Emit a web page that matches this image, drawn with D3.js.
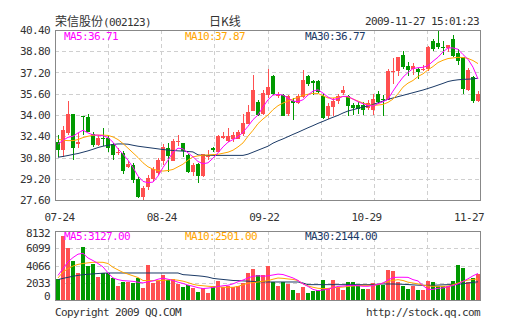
<!DOCTYPE html>
<html><head><meta charset="utf-8">
<script src="https://cdn.jsdelivr.net/npm/d3@7"></script>
<style>html,body{margin:0;padding:0;background:#fff;}svg{display:block}</style>
</head><body>
<svg id="c" width="505" height="330"></svg>
<script>
// ---------- DATA ----------
const stockName = "荣信股份";
const stockCode = "(002123)";
const chartTitle = "日K线";
const stamp = "2009-11-27 15:01:23";
const dateLabels = ["07-24","08-24","09-22","10-29","11-27"];
const priceTicks = [40.40,38.80,37.20,35.60,34.00,32.40,30.80,29.20,27.60];
const volTicks = [8132,6099,4066,2033,0];
const maNames = ["MA5","MA10","MA30"];
const maLast = [36.71,37.87,36.77];
const volMaLast = [3127,2501,2144];

const openP = [31.99,31.36,32.62,34.05,31.87,33.90,33.87,32.60,31.74,32.30,
32.25,31.79,31.20,31.16,30.06,30.23,29.18,27.80,28.56,29.16,
29.65,30.55,31.49,30.54,32.00,31.87,30.99,29.73,30.31,29.35,
30.80,31.49,31.24,32.25,32.04,32.17,32.25,32.57,33.32,34.32,
35.00,34.08,35.50,36.91,35.40,35.53,34.02,35.05,34.90,35.40,
36.91,36.53,36.53,35.40,33.90,34.65,35.03,35.66,35.40,34.78,
34.78,34.78,34.53,34.40,35.58,35.20,35.15,37.25,37.29,38.50,
37.67,37.42,37.47,37.40,37.42,39.55,39.40,39.10,38.99,39.75,
38.67,38.34,35.90,36.84,35.03];
const highP = [32.49,33.17,35.08,34.10,32.64,33.95,34.10,32.70,32.50,33.00,
32.40,31.90,31.49,31.30,30.50,30.36,29.35,28.65,29.48,30.06,
30.74,31.80,31.87,32.20,32.50,31.90,31.10,30.36,30.36,31.10,
31.36,31.60,32.50,32.75,33.00,32.75,32.90,34.05,34.72,37.01,
35.10,35.90,37.44,37.00,35.70,35.60,35.50,35.30,35.60,37.41,
37.00,36.66,36.66,35.60,34.90,35.30,35.60,36.20,35.50,34.90,
35.00,35.00,35.10,35.60,35.80,35.53,37.44,38.30,38.40,38.80,
38.00,37.90,37.55,37.80,39.20,39.70,40.30,39.60,39.30,40.00,
39.00,38.40,37.55,36.90,35.80];
const lowP = [30.86,30.86,32.49,30.61,31.50,32.50,32.70,31.60,31.70,31.70,
31.20,30.60,31.00,29.56,30.00,28.86,27.73,27.55,28.35,28.98,
29.48,30.20,29.73,30.50,31.66,30.86,29.66,29.40,28.90,29.30,
30.60,31.20,31.20,32.20,31.98,31.98,32.20,32.40,33.30,34.30,
33.90,34.00,35.30,35.50,35.30,33.90,33.95,33.65,34.80,35.30,
36.20,35.53,35.65,33.70,33.70,33.90,34.80,35.50,33.90,34.00,
34.10,34.00,34.40,34.00,34.90,33.90,35.10,36.30,36.90,37.50,
36.90,37.00,36.70,37.30,37.35,38.85,39.00,38.50,38.75,38.40,
37.80,35.60,35.80,34.90,35.00];
const closeP = [31.36,32.87,34.05,31.49,32.00,33.85,32.74,31.80,32.29,32.25,
31.50,30.99,31.25,29.80,30.29,29.10,27.80,28.48,29.24,29.91,
30.61,31.58,30.91,32.04,32.04,31.29,29.73,30.23,29.40,31.04,
30.90,31.36,32.42,32.42,32.42,32.50,32.74,33.38,34.25,35.88,
34.00,35.68,36.13,35.58,35.50,33.98,35.40,34.90,35.40,36.66,
36.28,36.40,35.73,33.77,34.65,35.08,35.40,35.90,34.65,34.53,
34.50,34.40,34.90,35.23,35.00,35.15,37.34,37.34,38.34,37.59,
37.34,37.67,37.22,37.50,39.10,38.92,39.10,38.99,39.25,38.50,
38.04,35.90,37.42,35.03,35.58];
const ma5 = [31.80,32.10,32.32,32.40,32.65,32.85,32.65,32.50,32.48,32.44,
32.30,31.95,31.45,31.05,30.60,30.05,29.40,29.00,28.90,28.95,
29.40,30.05,30.60,31.20,31.50,31.45,31.15,30.85,30.50,30.33,
30.40,30.75,31.15,31.60,31.95,32.15,32.35,32.70,33.15,33.65,
34.00,34.60,35.15,35.50,35.55,35.50,35.28,35.05,35.00,35.15,
35.50,35.80,35.90,35.65,35.35,35.15,35.25,35.40,35.40,35.20,
35.00,34.85,34.72,34.68,34.85,35.00,35.20,35.80,36.35,36.85,
37.20,37.50,37.56,37.59,37.72,38.05,38.35,38.75,39.05,39.05,
38.95,38.55,38.20,37.60,36.71];
const ma10 = [32.17,32.10,32.07,32.07,32.15,32.30,32.40,32.47,32.49,32.49,
32.46,32.35,32.15,31.85,31.50,31.15,30.80,30.40,30.10,29.92,
29.82,29.78,29.82,29.90,30.10,30.30,30.60,30.85,30.92,30.97,
30.99,31.02,31.04,31.12,31.20,31.35,31.60,31.90,32.40,32.85,
33.35,33.70,34.00,34.40,34.70,34.90,35.05,35.20,35.33,35.48,
35.56,35.63,35.62,35.45,35.28,35.28,35.32,35.40,35.35,35.20,
35.05,34.90,34.78,34.73,34.75,34.80,34.95,35.20,35.60,36.10,
36.40,36.60,36.90,37.10,37.40,37.65,37.95,38.12,38.25,38.30,
38.34,38.33,38.26,38.10,37.87];
const ma30 = [30.82,30.88,30.95,31.03,31.10,31.20,31.30,31.42,31.55,31.65,
31.72,31.78,31.82,31.82,31.80,31.72,31.65,31.60,31.55,31.50,
31.45,31.40,31.36,31.33,31.30,31.28,31.25,31.22,31.00,30.96,
30.96,30.96,30.96,30.96,30.96,30.96,30.96,30.96,31.05,31.20,
31.35,31.50,31.65,31.88,32.05,32.20,32.37,32.54,32.70,32.87,
33.04,33.20,33.37,33.52,33.68,33.83,33.97,34.15,34.30,34.40,
34.50,34.60,34.68,34.80,34.92,35.05,35.18,35.28,35.38,35.48,
35.58,35.68,35.78,35.88,36.00,36.12,36.25,36.38,36.52,36.60,
36.65,36.68,36.70,36.72,36.77];
const volume = [2500,7580,6150,4540,3200,6249,4030,4280,2730,3183,
3183,2610,1630,2180,2180,2060,2570,1430,4150,1945,
2280,2930,2380,2420,1900,1572,1769,1376,982,1376,
865,1651,2280,1494,1651,1494,1651,1965,3200,3620,
2900,2900,4000,2122,1611,2083,1886,1218,825,1494,
825,1022,1218,2319,1415,2319,1494,1140,2122,2122,
1611,1300,1300,2004,1729,1729,3498,3380,2122,1611,
1336,1611,1218,1218,2201,2122,1700,1600,1650,2280,
4088,3773,2122,2594,3065];
const vma5 = [2900,3700,4500,5000,5400,5500,4950,4650,4300,3900,
3200,2600,2400,2280,2240,2200,2100,2010,2150,2250,
2450,2580,2450,2300,2100,1950,1750,1620,1450,1350,
1400,1480,1580,1680,1740,1900,2150,2350,2600,2800,
2850,2800,2850,2950,3050,3000,2800,2600,2300,1900,
1600,1250,1100,1180,1280,1450,1600,1650,1700,1730,
1680,1620,1620,1700,1850,2000,2350,2650,2680,2680,
2670,2400,2250,1700,1250,1250,1380,1420,1580,1700,
1900,2200,2500,2850,3127];
const vma10 = [2600,3300,3700,4000,4200,4300,4380,4440,4450,4440,
4300,3850,3550,3250,3050,2850,2650,2300,2280,2280,
2280,2300,2370,2390,2330,2220,2050,1850,1730,1680,
1620,1580,1540,1510,1494,1500,1600,1800,1980,2050,
2120,2200,2280,2450,2594,2550,2480,2420,2300,1900,
1650,1500,1380,1340,1360,1440,1490,1520,1600,1650,
1700,1729,1729,1735,1800,2000,2200,2300,2398,2300,
2100,2000,1900,1750,1650,1611,1611,1611,1640,1800,
2000,2200,2350,2420,2501];
const vma30 = [2400,2550,2673,2800,2900,2987,3030,3080,3120,3160,
3183,3183,3183,3183,3183,3183,3183,3183,3183,3183,
3183,3183,3183,3183,3183,2987,2950,2900,2850,2790,
2700,2550,2480,2420,2360,2300,2280,2250,2220,2190,
2160,2140,2122,2122,2122,2122,2122,2122,2122,2000,
1810,1810,1810,1810,1810,1810,1810,1810,1810,1810,
1810,1810,1810,1830,1860,1886,1886,1886,1870,1850,
1820,1780,1750,1729,1729,1740,1760,1790,1808,1808,
1850,1920,2000,2080,2144];

// ---------- LAYOUT ----------
const L = 55, R = 480, pT = 30, pB = 200, vT = 231, vB = 300;
const UP = "#ff5050", DN = "#009900";
const maColors = ["#ff00ff", "#ffa500", "#1b3a66"];
const TXT = "#333";
const MONO = "'DejaVu Sans Mono', monospace";
const CJK = "'Noto Sans CJK SC', sans-serif";

const svg = d3.select("#c");
const n = closeP.length;
const x = d3.scaleBand().domain(d3.range(n)).range([L, R]);
const yP = d3.scaleLinear().domain([priceTicks[priceTicks.length-1], priceTicks[0]]).range([pB, pT]);
const yV = d3.scaleLinear().domain([0, volTicks[0]]).range([vB, vT]);
const colX = d3.range(1, 8).map(k => L + k * (R - L) / 8);

function grid(yScale, ticks, top, bot) {
  const g = svg.append("g").attr("stroke", "#cfcfcf").attr("stroke-dasharray", "4,3")
    .attr("shape-rendering", "crispEdges");
  g.selectAll(".h").data(ticks.slice(1, -1)).join("line")
    .attr("x1", L).attr("x2", R)
    .attr("y1", d => Math.round(yScale(d)) + 0.5).attr("y2", d => Math.round(yScale(d)) + 0.5);
  g.selectAll(".v").data(colX).join("line")
    .attr("x1", d => Math.round(d) + 0.5).attr("x2", d => Math.round(d) + 0.5)
    .attr("y1", top).attr("y2", bot);
}
grid(yP, priceTicks, pT, pB);
grid(yV, volTicks, vT, vB);

// ---------- candles ----------
const isUp = i => closeP[i] >= openP[i];
const cg = svg.append("g").attr("shape-rendering", "crispEdges");
cg.selectAll("line").data(d3.range(n)).join("line")
  .attr("x1", i => x(i) + 3.5).attr("x2", i => x(i) + 3.5)
  .attr("y1", i => Math.round(yP(highP[i]))).attr("y2", i => Math.round(yP(lowP[i])))
  .attr("stroke", i => isUp(i) ? UP : DN).attr("stroke-width", 1);
cg.selectAll("rect").data(d3.range(n)).join("rect")
  .attr("x", i => x(i) + 1).attr("width", 4)
  .attr("y", i => Math.round(yP(Math.max(openP[i], closeP[i]))))
  .attr("height", i => Math.max(1, Math.round(Math.abs(yP(openP[i]) - yP(closeP[i])))))
  .attr("fill", i => isUp(i) ? UP : DN);

// ---------- volume bars ----------
svg.append("g").attr("shape-rendering", "crispEdges")
  .selectAll("rect").data(volume).join("rect")
  .attr("x", (d, i) => x(i) + 1).attr("width", 4)
  .attr("y", d => Math.round(yV(d))).attr("height", d => vB - Math.round(yV(d)))
  .attr("fill", (d, i) => isUp(i) ? UP : DN);

// ---------- MA lines ----------
const lineP = d3.line().x((d, i) => x(i) + 3).y(d => yP(d));
const lineV = d3.line().x((d, i) => x(i) + 3).y(d => yV(d));
[ma30, ma10, ma5].forEach((s, k) => {
  svg.append("path").datum(s).attr("d", lineP).attr("fill", "none")
    .attr("stroke", maColors[2 - k]).attr("stroke-width", 1);
});
[vma30, vma10, vma5].forEach((s, k) => {
  svg.append("path").datum(s).attr("d", lineV).attr("fill", "none")
    .attr("stroke", maColors[2 - k]).attr("stroke-width", 1);
});

// ---------- frames ----------
svg.append("rect").attr("x", L + 0.5).attr("y", pT + 0.5).attr("width", R - L).attr("height", pB - pT)
  .attr("fill", "none").attr("stroke", "#888");
svg.append("rect").attr("x", L + 0.5).attr("y", vT + 0.5).attr("width", R - L).attr("height", vB - vT)
  .attr("fill", "none").attr("stroke", "#888");

// ---------- text ----------
function mono(g) { return g.attr("font-family", MONO).attr("font-size", 11).attr("letter-spacing", -0.62); }

mono(svg.append("g").attr("fill", TXT).attr("text-anchor", "end"))
  .selectAll("text").data(priceTicks).join("text")
  .attr("x", 50).attr("y", d => yP(d) + 4).text(d => d.toFixed(2));
mono(svg.append("g").attr("fill", TXT).attr("text-anchor", "end"))
  .selectAll("text").data(volTicks).join("text")
  .attr("x", 50).attr("y", d => Math.min(Math.max(yV(d), vT + 2), vB - 4) + 4).text(d => d);

const xl = d3.scalePoint().domain(dateLabels).range([59.5, 469]);
mono(svg.append("g").attr("fill", TXT).attr("text-anchor", "middle"))
  .selectAll("text").data(dateLabels).join("text")
  .attr("x", d => xl(d)).attr("y", 221).text(d => d);

const legX = [64, 185, 305];
mono(svg.append("g")).selectAll("text").data(maNames).join("text")
  .attr("x", (d, i) => legX[i]).attr("y", 40).attr("fill", (d, i) => maColors[i])
  .text((d, i) => d + ":" + maLast[i].toFixed(2));
mono(svg.append("g")).selectAll("text").data(maNames).join("text")
  .attr("x", (d, i) => legX[i]).attr("y", 240).attr("fill", (d, i) => maColors[i])
  .text((d, i) => d + ":" + volMaLast[i].toFixed(2));

const t = svg.append("text").attr("x", 55).attr("y", 26).attr("fill", TXT);
t.append("tspan").attr("font-family", CJK).attr("font-size", 12).text(stockName);
t.append("tspan").attr("font-family", MONO).attr("font-size", 11).attr("letter-spacing", -0.62).text(stockCode);
svg.append("text").attr("x", 225).attr("y", 26).attr("text-anchor", "middle")
  .attr("font-family", CJK).attr("font-size", 12).attr("fill", TXT).text(chartTitle);
mono(svg.append("text")).attr("x", 479).attr("y", 25).attr("text-anchor", "end").attr("fill", TXT).text(stamp);

mono(svg.append("text")).attr("x", 55).attr("y", 316).attr("fill", TXT).text("Copyright 2009 QQ.COM");
mono(svg.append("text")).attr("x", 480).attr("y", 316).attr("text-anchor", "end").attr("fill", TXT).text("http://stock.qq.com");
</script>
</body></html>
